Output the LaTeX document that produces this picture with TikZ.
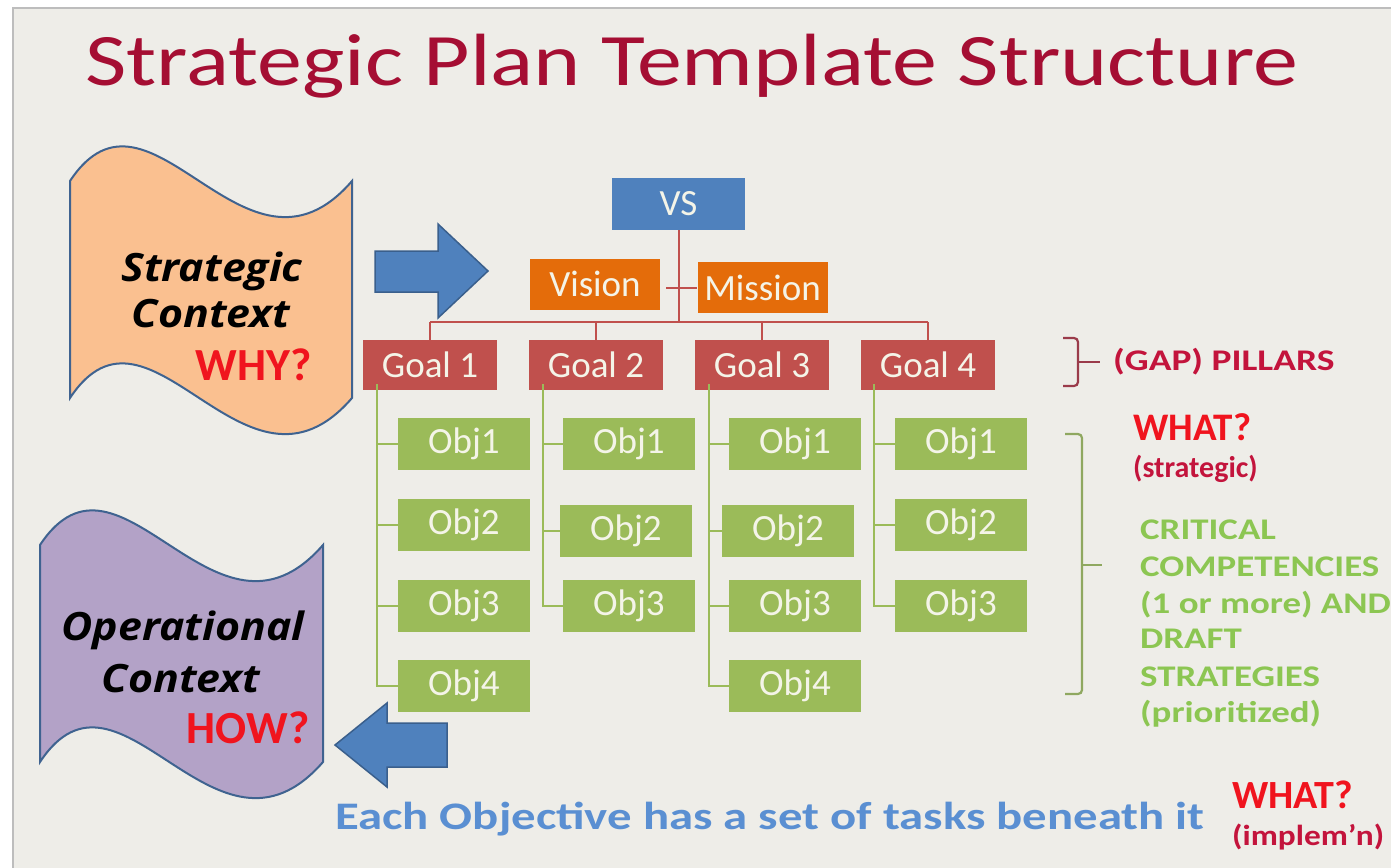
\documentclass[tikz,border=0pt]{standalone}
\usepackage{fontspec}
\usepackage{graphicx}
\setmainfont{Carlito}
\newfontfamily\osfont{Open Sans}
\definecolor{bg}{HTML}{EEEDE8}
\definecolor{frame}{HTML}{BDBDBD}
\definecolor{titlered}{HTML}{A50E33}
\definecolor{vsblue}{HTML}{4F81BD}
\definecolor{arrowedge}{HTML}{3A5F8C}
\definecolor{vmorange}{HTML}{E46C0A}
\definecolor{goalred}{HTML}{C0504D}
\definecolor{objgreen}{HTML}{9BBB59}
\definecolor{boxtxt}{HTML}{F4F4E8}
\definecolor{peach}{HTML}{FAC090}
\definecolor{lavender}{HTML}{B3A2C7}
\definecolor{banneredge}{HTML}{3F6390}
\definecolor{brightred}{HTML}{F0141E}
\definecolor{darkred}{HTML}{C3143C}
\definecolor{bracketred}{HTML}{9A3B4A}
\definecolor{bracketgreen}{HTML}{8FA860}
\definecolor{lightgreen}{HTML}{8CC652}
\definecolor{taskblue}{HTML}{5A8FD2}
\newcommand{\wider}[2]{\scalebox{#1}[1]{#2}}
\tikzset{
  orgbox/.style={rectangle, inner sep=0pt, text=boxtxt, font=\fontsize{37}{40}\selectfont},
  vsbox/.style={orgbox, fill=vsblue, minimum width=133pt, minimum height=52pt},
  vmbox/.style={orgbox, fill=vmorange, minimum width=130pt, minimum height=51pt},
  goalbox/.style={orgbox, fill=goalred, minimum width=134pt, minimum height=50pt},
  objbox/.style={orgbox, fill=objgreen, minimum width=132pt, minimum height=52pt},
  redline/.style={draw=goalred, line width=2pt},
  greenline/.style={draw=objgreen, line width=2pt},
  blockarrow/.style={fill=vsblue, draw=arrowedge, line width=1.5pt, line join=miter},
  banner/.style={draw=banneredge, line width=2pt},
  bannertxt/.style={inner sep=0pt, anchor=base, font=\osfont\bfseries\itshape\fontsize{39}{42}\selectfont},
  qtxt/.style={inner sep=0pt, anchor=base east, text=brightred, font=\bfseries\fontsize{46}{48}\selectfont},
  sidetxt/.style={inner sep=0pt, anchor=base west},
  greentxt/.style={sidetxt, text=lightgreen, font=\bfseries\fontsize{30}{32}\selectfont},
}
\begin{document}
\begin{tikzpicture}[x=1pt,y=-1pt]
\useasboundingbox (0,0) rectangle (1391,867);
\fill[white] (0,0) rectangle (1391,867);
\fill[bg] (13,8) rectangle (1400,880);
\draw[frame, line width=2pt] (13,880) -- (13,8) -- (1400,8);

% title
\node[sidetxt, text=titlered, font=\fontsize{74}{80}\selectfont] (title) at (85,85) {\wider{1.215}{Strategic Plan Template Structure}};

% banners
\draw[banner, fill=peach] (70,181) .. controls (150,60) and (245,305) .. (352,181)
  -- (352,398) .. controls (245,522) and (150,277) .. (70,398) -- cycle;
\draw[banner, fill=lavender] (40,545) .. controls (120,424) and (215,669) .. (323,545)
  -- (323,762) .. controls (215,886) and (120,641) .. (40,762) -- cycle;

\node[bannertxt] (sc1) at (212,281) {\wider{1.1}{Strategic}};
\node[bannertxt] (sc2) at (211,327) {\wider{1.1}{Context}};
\node[qtxt] (why) at (312,380) {WHY?};
\node[bannertxt] (oc1) at (183,640) {\wider{1.1}{Operational}};
\node[bannertxt] (oc2) at (181,692) {\wider{1.1}{Context}};
\node[qtxt] (how) at (310,743) {HOW?};

% block arrows
\draw[blockarrow] (375,251) -- (438,251) -- (438,224) -- (488,271) -- (438,318) -- (438,292) -- (375,292) -- cycle;
\draw[blockarrow] (447,723) -- (387,723) -- (387,703) -- (335,745) -- (387,787) -- (387,767) -- (447,767) -- cycle;

% org chart
\node[vsbox] (vs) at (678.5,204) {VS};
\node[vmbox] (vision) at (595,284) {Vision};
\node[vmbox] (mission) at (762.5,287.5) {Mission};
\node[goalbox] (g1) at (430,365) {Goal 1};
\node[goalbox] (g2) at (596,365) {Goal 2};
\node[goalbox] (g3) at (762,365) {Goal 3};
\node[goalbox] (g4) at (928,365) {Goal 4};

\coordinate (bar) at (678.5,322);
\draw[redline] (vs.south) -- (bar);
\draw[redline] ([xshift=6pt]vision.east |- mission.west) -- (mission.west);
\draw[redline] (g1.north |- bar) -- (g4.north |- bar);
\foreach \g in {g1,g2,g3,g4}{\draw[redline] (\g.north |- bar) -- ([yshift=-2pt]\g.north);}

% objectives
\node[objbox] (o11) at (464,444) {Obj1};
\node[objbox] (o12) at (464,525) {Obj2};
\node[objbox] (o13) at (464,606) {Obj3};
\node[objbox] (o14) at (464,686) {Obj4};
\node[objbox] (o21) at (629,444) {Obj1};
\node[objbox] (o22) at (626,531) {Obj2};
\node[objbox] (o23) at (629,606) {Obj3};
\node[objbox] (o31) at (795,444) {Obj1};
\node[objbox] (o32) at (788,531) {Obj2};
\node[objbox] (o33) at (795,606) {Obj3};
\node[objbox] (o34) at (795,686) {Obj4};
\node[objbox] (o41) at (961,444) {Obj1};
\node[objbox] (o42) at (961,525) {Obj2};
\node[objbox] (o43) at (961,606) {Obj3};

\coordinate (t1) at ([xshift=-53pt,yshift=6pt]g1.south);
\coordinate (t2) at ([xshift=-53pt,yshift=6pt]g2.south);
\coordinate (t3) at ([xshift=-53pt,yshift=6pt]g3.south);
\coordinate (t4) at ([xshift=-54pt,yshift=6pt]g4.south);
\draw[greenline] (t1) -- (t1 |- o14.west) -- (o14.west);
\foreach \o in {o11,o12,o13}{\draw[greenline] (t1 |- \o.west) -- (\o.west);}
\draw[greenline] (t2) -- (t2 |- o23.west) -- (o23.west);
\foreach \o in {o21,o22}{\draw[greenline] (t2 |- \o.west) -- (\o.west);}
\draw[greenline] (t3) -- (t3 |- o34.west) -- (o34.west);
\foreach \o in {o31,o32,o33}{\draw[greenline] (t3 |- \o.west) -- (\o.west);}
\draw[greenline] (t4) -- (t4 |- o43.west) -- (o43.west);
\foreach \o in {o41,o42}{\draw[greenline] (t4 |- \o.west) -- (\o.west);}

% brackets
\draw[bracketred, line width=2.2pt, rounded corners=4pt] (1063,338) -- (1078,338) -- (1078,386) -- (1063,386);
\coordinate (bm1) at (1078,362);
\draw[bracketred, line width=2.2pt] (bm1) -- ++(22,0);
\draw[bracketgreen, line width=2.2pt, rounded corners=4pt] (1065,434) -- (1082,434) -- (1082,694) -- (1065,694);
\coordinate (bm2) at (1082,565);
\draw[bracketgreen, line width=2.2pt] (bm2) -- ++(20,0);

% side texts
\node[sidetxt, text=darkred, font=\bfseries\fontsize{30}{32}\selectfont] (gap) at (1113,370) {\wider{1.25}{(GAP) PILLARS}};
\node[sidetxt, text=brightred, font=\bfseries\fontsize{39}{42}\selectfont] (what1) at (1133,440) {WHAT?};
\node[sidetxt, text=darkred, font=\bfseries\fontsize{30}{32}\selectfont] (strat) at (1133,477) {(strategic)};
\node[greentxt] (l1) at (1140,539) {\wider{1.23}{CRITICAL}};
\node[greentxt] (l2) at (1140,576) {\wider{1.23}{COMPETENCIES}};
\node[greentxt] (l3) at (1140,613) {\wider{1.23}{(1 or more) AND}};
\node[greentxt] (l4) at (1140,648) {\wider{1.23}{DRAFT}};
\node[greentxt] (l5) at (1140,686) {\wider{1.23}{STRATEGIES}};
\node[greentxt] (l6) at (1140,722) {\wider{1.23}{(prioritized)}};

\node[sidetxt, text=taskblue, font=\bfseries\fontsize{39}{42}\selectfont] (tasks) at (335,829) {\wider{1.25}{Each Objective has a set of tasks beneath it}};
\node[sidetxt, text=brightred, font=\bfseries\fontsize{40}{42}\selectfont] (what2) at (1232,808) {WHAT?};
\node[sidetxt, text=darkred, font=\bfseries\fontsize{29}{31}\selectfont] (impl) at (1232,845) {\wider{1.15}{(implem'n)}};
\end{tikzpicture}
\end{document}
